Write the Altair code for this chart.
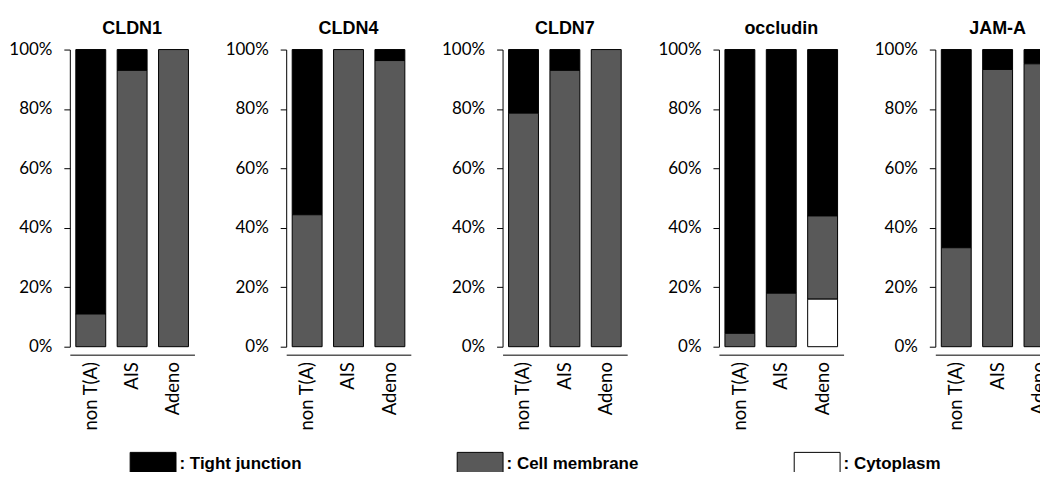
import altair as alt
import pandas as pd

proteins = ["CLDN1", "CLDN4", "CLDN7", "occludin", "JAM-A"]
groups = ["non T(A)", "AIS", "Adeno"]
locations = ["Tight junction", "Cell membrane", "Cytoplasm"]
stack_rank = [3, 2, 1]  # cytoplasm at bottom, tight junction on top
colors = ["#000000", "#595959", "#ffffff"]

# percentages per protein, in group order [non T(A), AIS, Adeno]
tight_junction = [[89.0, 7.0, 0.0], [55.6, 0.0, 3.7], [21.4, 7.0, 0.0], [95.5, 82.0, 56.0], [66.7, 6.7, 4.8]]
cell_membrane = [[11.0, 93.0, 100.0], [44.4, 100.0, 96.3], [78.6, 93.0, 100.0], [4.5, 18.0, 28.0], [33.3, 93.3, 95.2]]
cytoplasm = [[0.0, 0.0, 0.0], [0.0, 0.0, 0.0], [0.0, 0.0, 0.0], [0.0, 0.0, 16.0], [0.0, 0.0, 0.0]]

series = [tight_junction, cell_membrane, cytoplasm]
rows = []
for li, loc in enumerate(locations):
    for pi, prot in enumerate(proteins):
        for gi, grp in enumerate(groups):
            v = series[li][pi][gi]
            if v > 0:
                rows.append({"protein": prot, "group": grp, "location": loc,
                             "rank": stack_rank[li], "pct": v})
df = pd.DataFrame(rows)

base = alt.Chart(df).mark_bar(stroke="#000000", strokeWidth=1).encode(
    x=alt.X("group:N", sort=groups, title=None,
            scale=alt.Scale(paddingInner=0.277, paddingOuter=0.145),
            axis=alt.Axis(labelAngle=270, ticks=False, labelFont="Lato", labelFontSize=18.5,
                          labelColor="#000000", labelPadding=7, domainColor="#000000")),
    y=alt.Y("pct:Q", stack="zero", title=None,
            scale=alt.Scale(domain=[0, 100], nice=False),
            axis=alt.Axis(values=[0, 20, 40, 60, 80, 100], labelExpr="datum.value + '%'",
                          grid=False, tickSize=6, tickColor="#000000", domainColor="#000000",
                          labelFont="Lato", labelFontSize=17, labelColor="#000000",
                          labelPadding=12)),
    color=alt.Color("location:N", sort=locations,
                    scale=alt.Scale(domain=locations, range=colors),
                    legend=alt.Legend(title=None, orient="none", direction="horizontal",
                                      legendX=60, legendY=392,
                                      symbolType="M-1,-0.5H1V0.5H-1Z", symbolSize=2116,
                                      symbolStrokeColor="#000000", symbolStrokeWidth=1,
                                      symbolOpacity=1, labelExpr="': ' + datum.label",
                                      labelFont="Liberation Sans", labelFontWeight="bold",
                                      labelFontSize=17, labelColor="#000000", labelOffset=3,
                                      columnPadding=153, labelLimit=300)),
    order=alt.Order("rank:Q", sort="ascending"),
).properties(width=125, height=298)

chart = base.facet(
    column=alt.Column("protein:N", sort=proteins,
                      header=alt.Header(title=None, labelFont="Liberation Sans",
                                        labelFontWeight="bold", labelFontSize=18,
                                        labelColor="#000000", labelPadding=3)),
    spacing=30,
).resolve_axis(y="independent").properties(
    padding={"left": 0, "top": 11, "right": -20, "bottom": -6}
).configure_view(stroke=None)

chart.save("out.html", embed_options={"renderer": "svg", "actions": False})
